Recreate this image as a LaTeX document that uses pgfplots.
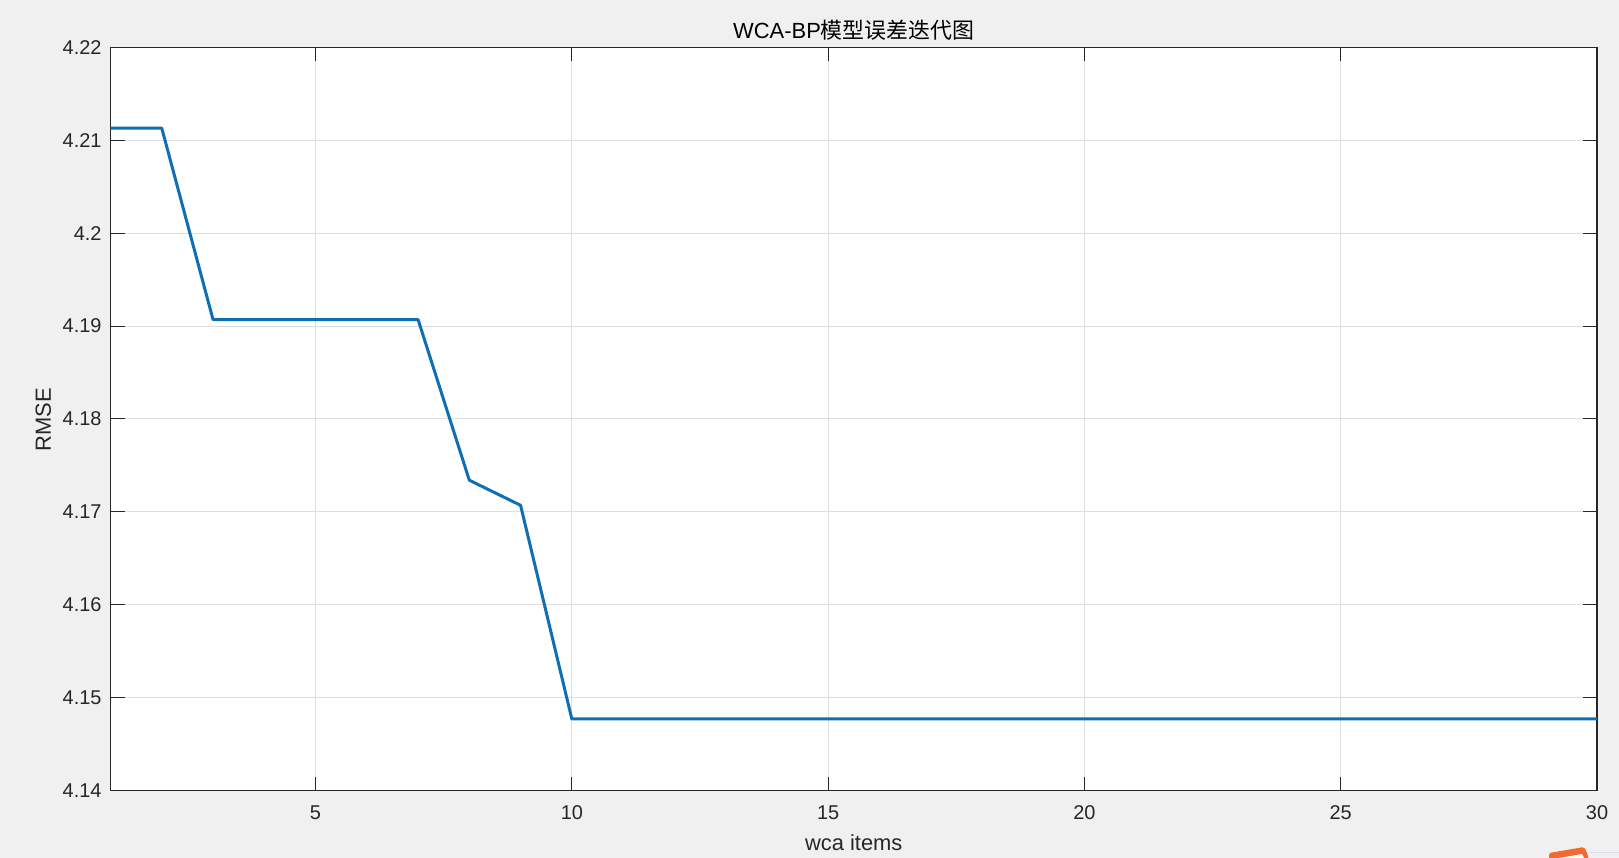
\documentclass[border=0pt]{standalone}
\usepackage{fontspec}
\setmainfont{Liberation Sans}
\newfontfamily\cjk{Noto Sans CJK SC}
\usepackage{pgfplots}
\pgfplotsset{compat=1.18}

\definecolor{figbg}{HTML}{F0F0F0}
\definecolor{axcol}{HTML}{262626}
\definecolor{gridcol}{HTML}{DEDEDE}
\definecolor{linecol}{HTML}{0F6FB5}
\definecolor{stamp}{HTML}{F26A30}
\definecolor{edge}{HTML}{D5DEEA}

\begin{document}
\begin{tikzpicture}
% figure window: 1 reference pixel = 0.5bp
\fill[figbg] (0,0) rectangle (809.5bp,429bp);
\useasboundingbox (0,0) rectangle (809.5bp,429bp);
\begin{axis}[
    at={(55.25bp,33.75bp)}, anchor=south west,
    scale only axis,
    width=743.25bp, height=371.6bp,
    xmin=1, xmax=30, ymin=4.14, ymax=4.22,
    xtick={5,10,15,20,25,30},
    ytick={4.14,4.15,4.16,4.17,4.18,4.19,4.2,4.21,4.22},
    yticklabels={4.14,4.15,4.16,4.17,4.18,4.19,4.2,4.21,4.22},
    xticklabel style={font=\fontsize{10}{12}\selectfont, text=axcol, yshift=-4bp},
    yticklabel style={font=\fontsize{10}{12}\selectfont, text=axcol, xshift=-1bp},
    /pgf/number format/assume math mode=true,
    tick style={axcol, line width=0.5bp},
    major tick length=7bp,
    tick align=inside,
    grid=major,
    major grid style={gridcol, line width=0.5bp},
    axis line style={axcol, line width=0.6bp},
    axis background/.style={fill=white},
    title={WCA-BP{\cjk 模型误差迭代图}},
    title style={font=\fontsize{11}{13}\selectfont, at={(0.5,1)}, anchor=south, yshift=-6.2bp},
    xlabel={wca items},
    xlabel style={font=\fontsize{11}{13}\selectfont, text=axcol, yshift=-0.5bp},
    ylabel={RMSE},
    ylabel style={font=\fontsize{11}{13}\selectfont, text=axcol, yshift=-1bp, xshift=-0.5bp},
]
\addplot[linecol, line width=1.5bp, line join=round] coordinates {
    (1,4.2113) (2,4.2113) (3,4.1907) (4,4.1907) (5,4.1907) (6,4.1907) (7,4.1907)
    (8,4.1734) (9,4.1707) (10,4.1477) (11,4.1477) (12,4.1477) (13,4.1477)
    (14,4.1477) (15,4.1477) (16,4.1477) (17,4.1477) (18,4.1477) (19,4.1477)
    (20,4.1477) (21,4.1477) (22,4.1477) (23,4.1477) (24,4.1477) (25,4.1477)
    (26,4.1477) (27,4.1477) (28,4.1477) (29,4.1477) (30,4.1477)
};
\end{axis}
% screenshot leftovers in the bottom right corner
\fill[stamp, rounded corners=0.8bp] (774.5bp,-2bp) -- (774.5bp,2.5bp) -- (792bp,5.5bp) -- (794bp,1.5bp) -- (794bp,-2bp) -- cycle;
\fill[white] (779bp,-1bp) -- (779.5bp,0bp) -- (791bp,2bp) -- (792.5bp,-1bp) -- cycle;
\draw[edge, line width=0.5bp] (795bp,2.6bp) -- (809.5bp,2.6bp);
\end{tikzpicture}
\end{document}
